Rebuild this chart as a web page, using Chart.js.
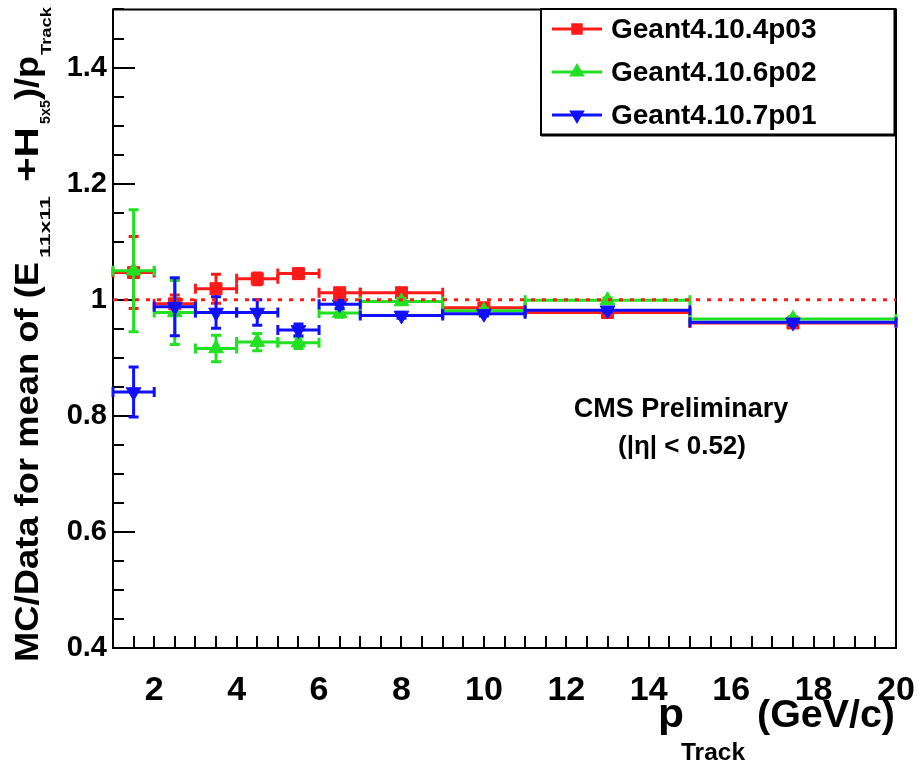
<!DOCTYPE html>
<html>
<head>
<meta charset="utf-8">
<script src="https://cdn.jsdelivr.net/npm/chart.js@4.4.0/dist/chart.umd.min.js"></script>
<style>
  html, body { margin: 0; padding: 0; background: #fff; }
</style>
</head>
<body>
<canvas id="graph-placeholder" width="917" height="766"></canvas>
<script>
// bins in p_Track (GeV/c)
const pTrack = [1.5, 2.5, 3.5, 4.5, 5.5, 6.5, 8, 10, 13, 17.5];
const binLow = [1, 2, 3, 4, 5, 6, 7, 9, 11, 15];
const binHigh = [2, 3, 4, 5, 6, 7, 9, 11, 15, 20];

// MC/Data ratios
const g4_104p03 = [1.047, 0.993, 1.019, 1.036, 1.045, 1.012, 1.012, 0.986, 0.978, 0.960];
const g4_104p03Err = [0.062, 0.015, 0.025, 0.010, 0.008, 0.006, 0.005, 0.004, 0.004, 0.004];
const g4_106p02 = [1.050, 0.978, 0.916, 0.927, 0.926, 0.977, 0.997, 0.981, 0.999, 0.967];
const g4_106p02Err = [0.105, 0.055, 0.023, 0.015, 0.010, 0.007, 0.005, 0.004, 0.004, 0.004];
const g4_107p01 = [0.841, 0.988, 0.978, 0.978, 0.948, 0.992, 0.973, 0.976, 0.982, 0.961];
const g4_107p01Err = [0.043, 0.050, 0.027, 0.022, 0.010, 0.007, 0.005, 0.004, 0.004, 0.004];

const refLine = 1;
const xTickValues = [2, 4, 6, 8, 10, 12, 14, 16, 18, 20];
const yTickValues = [0.4, 0.6, 0.8, 1, 1.2, 1.4];
const yTickLabels = ['0.4', '0.6', '0.8', '1', '1.2', '1.4'];

const FONT = '"Liberation Sans", Arial, Helvetica, sans-serif';
const RED = '#ff1a1a', GREEN = '#22e022', BLUE = '#1010ff';

function pts(ys) {
    return pTrack.map(function (x, i) { return { x: x, y: ys[i] }; });
}

// draws text squeezed/stretched to a given length
function fitText(ctx, text, x, y, size, len) {
    ctx.font = 'bold ' + size + 'px ' + FONT;
    const w = ctx.measureText(text).width;
    ctx.save();
    ctx.translate(x, y);
    ctx.scale(len / w, 1);
    ctx.fillText(text, 0, 0);
    ctx.restore();
}

const errorBars = {
    id: 'errorBars',
    beforeDatasetDraw(chart, args) {
        const ds = chart.data.datasets[args.index];
        if (!ds.errY) return;
        const ctx = chart.ctx, xs = chart.scales.x, ys = chart.scales.y;
        ctx.save();
        ctx.strokeStyle = ds.borderColor;
        ctx.lineWidth = 3;
        ds.data.forEach(function (p, i) {
            const px = xs.getPixelForValue(p.x), py = ys.getPixelForValue(p.y);
            const xl = xs.getPixelForValue(binLow[i]), xh = xs.getPixelForValue(binHigh[i]);
            const yt = ys.getPixelForValue(p.y + ds.errY[i]), yb = ys.getPixelForValue(p.y - ds.errY[i]);
            ctx.beginPath();
            ctx.moveTo(xl, py); ctx.lineTo(xh, py);
            ctx.moveTo(xl, py - 5); ctx.lineTo(xl, py + 5);
            ctx.moveTo(xh, py - 5); ctx.lineTo(xh, py + 5);
            ctx.moveTo(px, yt); ctx.lineTo(px, yb);
            ctx.moveTo(px - 5, yt); ctx.lineTo(px + 5, yt);
            ctx.moveTo(px - 5, yb); ctx.lineTo(px + 5, yb);
            ctx.stroke();
        });
        ctx.restore();
    }
};

const frame = {
    id: 'frame',
    beforeDatasetsDraw(chart) {
        const ctx = chart.ctx, a = chart.chartArea, xs = chart.scales.x, ys = chart.scales.y;
        ctx.save();
        ctx.strokeStyle = '#000';
        ctx.lineWidth = 2;
        ctx.beginPath();
        // x ticks, inside the frame
        for (let v = 1; v <= 20.001; v += 0.5) {
            const px = Math.round(xs.getPixelForValue(v));
            ctx.moveTo(px, a.bottom); ctx.lineTo(px, a.bottom - 12);
        }
        // y ticks
        for (let v = 0.4; v <= 1.5001; v += 0.05) {
            const py = Math.round(ys.getPixelForValue(v));
            const major = Math.abs(v / 0.2 - Math.round(v / 0.2)) < 1e-6;
            ctx.moveTo(a.left, py); ctx.lineTo(a.left + (major ? 22 : 11), py);
        }
        ctx.stroke();
        ctx.strokeRect(a.left, a.top, a.right - a.left, a.bottom - a.top);
        ctx.restore();
    },
    afterDraw(chart) {
        const ctx = chart.ctx;
        ctx.save();

        // legend
        ctx.fillStyle = '#fff';
        ctx.fillRect(541, 9, 354, 126);
        ctx.strokeStyle = '#000';
        ctx.lineWidth = 2;
        ctx.strokeRect(541, 9, 354, 126);
        ctx.lineWidth = 3;
        ctx.beginPath(); ctx.moveTo(541, 135); ctx.lineTo(895, 135); ctx.lineTo(895, 9); ctx.stroke();
        const rows = [3, 2, 1];
        rows.forEach(function (di, k) {
            const ds = chart.data.datasets[di];
            const y = 29 + k * 43;
            ctx.strokeStyle = ds.borderColor;
            ctx.lineWidth = 3;
            ctx.beginPath(); ctx.moveTo(552, y); ctx.lineTo(602, y); ctx.stroke();
            ctx.fillStyle = ds.backgroundColor;
            Chart.helpers.drawPoint(ctx, { pointStyle: ds.pointStyle, rotation: ds.rotation || 0, radius: 6, borderWidth: 1 }, 577, y);
            ctx.fillStyle = '#000';
            ctx.font = 'bold 28px ' + FONT;
            ctx.textAlign = 'left';
            ctx.textBaseline = 'middle';
            ctx.fillText(ds.label, 611, y + 1);
        });

        // annotation
        ctx.fillStyle = '#000';
        ctx.textAlign = 'center';
        ctx.textBaseline = 'middle';
        ctx.font = 'bold 27px ' + FONT;
        ctx.fillText('CMS Preliminary', 681, 410);
        ctx.font = 'bold 26px ' + FONT;
        ctx.fillText('(|\u03b7| < 0.52)', 682, 447);

        // x title
        ctx.textAlign = 'left';
        ctx.textBaseline = 'alphabetic';
        fitText(ctx, 'p', 658, 727, 40, 26);
        fitText(ctx, 'Track', 681, 760, 24, 64);
        fitText(ctx, '(GeV/c)', 757, 727, 38, 138);

        // y title, rotated
        ctx.save();
        ctx.translate(38, 662);
        ctx.rotate(-Math.PI / 2);
        fitText(ctx, 'MC/Data for mean of (E', 0, 0, 34, 400);
        fitText(ctx, '11x11', 404, 12, 15, 62);
        fitText(ctx, '+H', 480, 0, 34, 55);
        fitText(ctx, '5x5', 538, 12, 15, 24);
        fitText(ctx, ')/p', 562, 0, 34, 44);
        fitText(ctx, 'Track', 607, 13, 15, 48);
        ctx.restore();

        ctx.restore();
    }
};

const graphPlaceholder = document.getElementById('graph-placeholder');
graphPlaceholder.chart = new Chart(graphPlaceholder, {
    type: 'scatter',
    data: {
        datasets: [{
            label: 'ref',
            data: [{ x: 1, y: refLine }, { x: 20, y: refLine }],
            showLine: true,
            borderColor: RED,
            borderWidth: 3,
            borderDash: [4, 7],
            pointRadius: 0,
            order: 0
        }, {
            label: 'Geant4.10.7p01',
            data: pts(g4_107p01),
            errY: g4_107p01Err,
            pointStyle: 'triangle',
            rotation: 180,
            pointRadius: 8.5,
            borderWidth: 1,
            borderColor: BLUE,
            backgroundColor: BLUE,
            order: 1
        }, {
            label: 'Geant4.10.6p02',
            data: pts(g4_106p02),
            errY: g4_106p02Err,
            pointStyle: 'triangle',
            pointRadius: 8.5,
            borderWidth: 1,
            borderColor: GREEN,
            backgroundColor: GREEN,
            order: 2
        }, {
            label: 'Geant4.10.4p03',
            data: pts(g4_104p03),
            errY: g4_104p03Err,
            pointStyle: 'rect',
            pointRadius: 8.5,
            borderWidth: 1,
            borderColor: RED,
            backgroundColor: RED,
            order: 3
        }]
    },
    options: {
        responsive: false,
        animation: false,
        devicePixelRatio: 1,
        layout: { padding: { top: 7, right: 21, left: 0, bottom: 0 } },
        plugins: { legend: { display: false }, tooltip: { enabled: false } },
        scales: {
            x: {
                type: 'linear',
                min: 1,
                max: 20,
                grid: { display: false, drawTicks: false },
                border: { display: false },
                afterBuildTicks: function (s) { s.ticks = xTickValues.map(function (v) { return { value: v }; }); },
                afterFit: function (s) { s.height = 118; s.paddingLeft = 0; s.paddingRight = 0; },
                ticks: {
                    autoSkip: false,
                    maxRotation: 0,
                    padding: 22,
                    color: '#000',
                    font: { family: FONT, size: 34, weight: 'bold' },
                    callback: function (v) { return String(v); }
                }
            },
            y: {
                type: 'linear',
                min: 0.4,
                max: 1.5,
                grid: { display: false, drawTicks: false },
                border: { display: false },
                afterBuildTicks: function (s) { s.ticks = yTickValues.map(function (v) { return { value: v }; }); },
                afterFit: function (s) { s.width = 113; s.paddingTop = 0; s.paddingBottom = 0; },
                ticks: {
                    padding: 6,
                    color: '#000',
                    font: { family: FONT, size: 29, weight: 'bold' },
                    callback: function (v) {
                        const i = yTickValues.findIndex(function (t) { return Math.abs(t - v) < 1e-9; });
                        return i >= 0 ? yTickLabels[i] : '';
                    }
                }
            }
        }
    },
    plugins: [errorBars, frame]
});
</script>
</body>
</html>
